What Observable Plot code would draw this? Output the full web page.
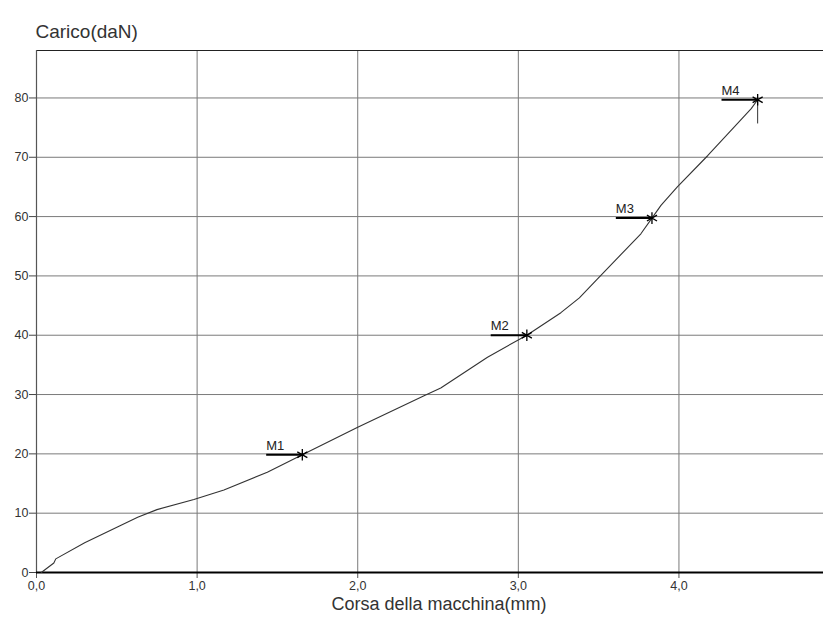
<!DOCTYPE html>
<html>
<head>
<meta charset="utf-8">
<script src="https://cdn.jsdelivr.net/npm/d3@7"></script>
<script src="https://cdn.jsdelivr.net/npm/@observablehq/plot@0.6"></script>
<style>
  html, body { margin: 0; padding: 0; background: #fff; }
  svg { display: block; }
</style>
</head>
<body>
<div id="chart"></div>
<script>
// Curve (Corsa mm, Carico daN)
const corsa  = [0.03, 0.108, 0.12, 0.30, 0.52, 0.63, 0.75, 0.98, 1.167, 1.437, 1.655, 2.0, 2.413, 2.517, 2.808, 3.053, 3.265, 3.38, 3.493, 3.763, 3.832, 3.888, 3.99, 4.18, 4.365, 4.45, 4.49];
const carico = [0.0, 1.6, 2.3, 5.0, 7.9, 9.3, 10.6, 12.3, 13.9, 16.9, 19.85, 24.5, 29.8, 31.1, 36.3, 40.0, 43.8, 46.3, 49.5, 57.1, 59.75, 61.9, 65.0, 70.3, 75.7, 78.2, 79.7];

// Markers
const markerNames = ["M1", "M2", "M3", "M4"];
const markerX = [1.655, 3.053, 3.832, 4.49];
const markerY = [19.85, 40.0, 59.75, 79.7];
const markerLeaderLen = 0.225; // length of the horizontal leader (mm)

// Vertical drop under M4
const m4DropY = [79.7, 75.7];

// Ticks
const xTicks = [0, 1, 2, 3, 4];
const yTicks = [0, 10, 20, 30, 40, 50, 60, 70, 80];

const curve = corsa.map((x, i) => ({x, y: carico[i]}));
const markers = markerNames.map((name, i) => ({name, x: markerX[i], y: markerY[i]}));

const font = "'Liberation Sans', Arial, sans-serif";

const chart = Plot.plot({
  width: 823,
  height: 619,
  marginTop: 50,
  marginBottom: 47,
  marginLeft: 36,
  marginRight: 0,
  style: {fontFamily: font, fontSize: "12px", color: "#333", background: "#fff"},
  x: {domain: [0, 4.9]},
  y: {domain: [0, 88]},
  marks: [
    Plot.gridY(yTicks, {stroke: "#7a7a7a", strokeOpacity: 1, strokeWidth: 1}),
    Plot.gridX([1, 2, 3, 4], {stroke: "#7a7a7a", strokeOpacity: 1, strokeWidth: 1}),
    Plot.ruleY([88], {stroke: "#222", strokeWidth: 1.2}),
    Plot.ruleX([0], {stroke: "#555", strokeWidth: 1.2}),
    Plot.axisY({ticks: yTicks, tickSize: 7, tickPadding: 1, label: null, stroke: "#444", fill: "#333", fontSize: 12.5}),
    Plot.axisX({ticks: xTicks, tickSize: 6, tickPadding: 3, label: null, stroke: "#555", fill: "#333", fontSize: 12.5,
      tickFormat: d => d.toFixed(1).replace(".", ",")}),
    Plot.ruleY([0], {stroke: "#000", strokeWidth: 2.2}),
    Plot.line(curve, {x: "x", y: "y", stroke: "#333", strokeWidth: 1.1}),
    Plot.link(markers, {x1: d => d.x - markerLeaderLen, x2: "x", y1: "y", y2: "y", stroke: "#000", strokeWidth: 2}),
    Plot.link([{x: markerX[3], y1: m4DropY[0], y2: m4DropY[1]}], {x1: "x", x2: "x", y1: "y1", y2: "y2", stroke: "#333", strokeWidth: 1}),
    Plot.dot(markers, {x: "x", y: "y", symbol: "asterisk", r: 5.5, stroke: "#000", strokeWidth: 1.3}),
    Plot.text(markers, {x: d => d.x - markerLeaderLen, y: "y", text: "name", textAnchor: "start", dy: -9, dx: 0, fontSize: 13, fill: "#222"}),
    Plot.text(["Carico(daN)"], {frameAnchor: "top-left", text: d => d, textAnchor: "start", dx: -1, dy: -26, fontSize: 19, fill: "#333"}),
    Plot.text(["Corsa della macchina(mm)"], {frameAnchor: "bottom", text: d => d, dx: 9, dy: 37, fontSize: 18, fill: "#333"})
  ]
});

document.getElementById("chart").appendChild(chart);
</script>
</body>
</html>
